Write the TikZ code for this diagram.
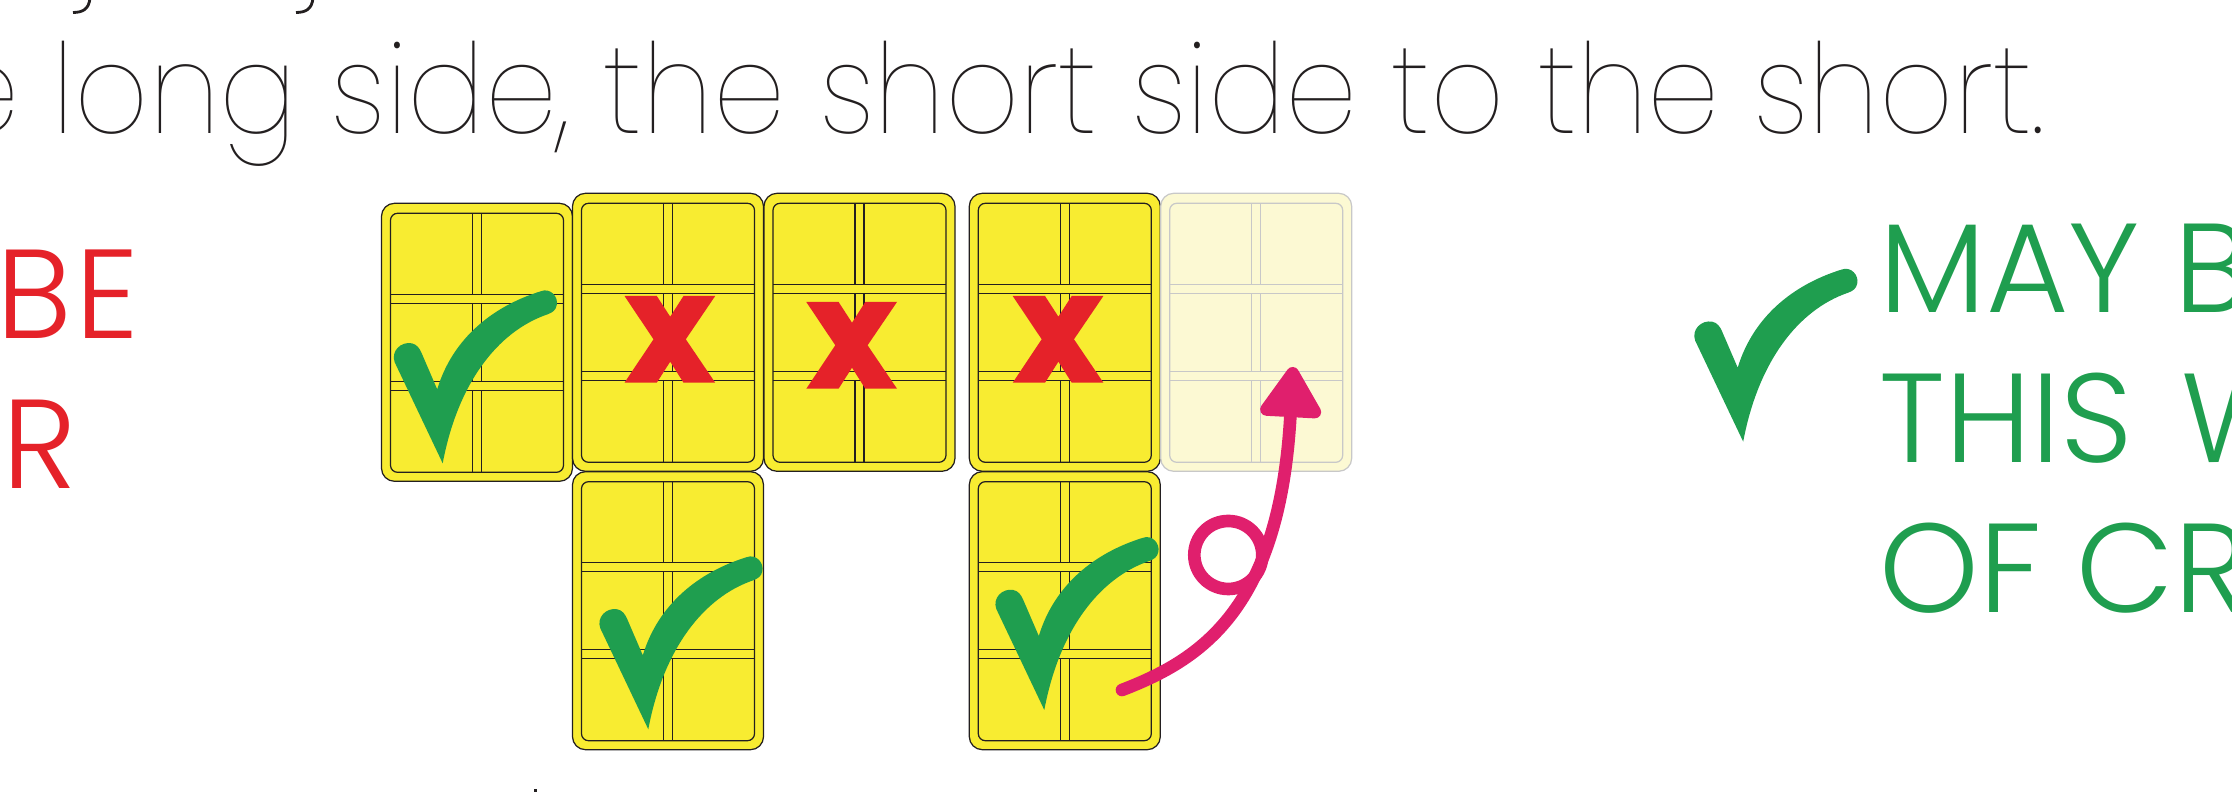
\documentclass[tikz,border=0pt]{standalone}
\usepackage{fontspec}
\usetikzlibrary{arrows.meta}
\usetikzlibrary{calc}
\tikzset{>=latex}

\IfFontExistsTF{Poppins Thin}{\newfontfamily\hairfont[FakeStretch=0.922]{Poppins Thin}}{%
  \IfFontExistsTF{Poppins ExtraLight}{\newfontfamily\hairfont[FakeStretch=0.922]{Poppins ExtraLight}}{\newfontfamily\hairfont{Lato}}}
\IfFontExistsTF{Poppins Light}{\newfontfamily\capsfont{Poppins Light}}{%
  \IfFontExistsTF{Lato Light}{\newfontfamily\capsfont{Lato Light}}{\newfontfamily\capsfont{Lato}}}

\definecolor{tileyellow}{HTML}{F8EC31}
\definecolor{tickgreen}{HTML}{1F9E4F}
\definecolor{crossred}{HTML}{E52229}
\definecolor{arrowpink}{HTML}{E01F6D}
\definecolor{fadeyellow}{HTML}{FCF9D3}
\definecolor{fadegrey}{HTML}{C8C8C8}
\definecolor{inkblack}{HTML}{231F20}

\tikzset{
  tileface/.style={fill=tileyellow, draw=inkblack, line width=0.35pt},
  tilegrid/.style={draw=inkblack, line width=0.35pt},
  topline/.style={font=\hairfont\fontsize{35.5pt}{40pt}\selectfont, text=inkblack, inner sep=0pt},
  redword/.style={font=\capsfont\fontsize{36pt}{40pt}\selectfont, text=crossred, inner sep=0pt},
  greenword/.style={font=\capsfont\fontsize{36pt}{40pt}\selectfont, text=tickgreen, inner sep=0pt},
  pinkline/.style={draw=arrowpink, line width=3.6pt, line cap=round},
  pics/tile/.style={code={
    \draw[tileface, rounded corners=1.3mm] (0,0) rectangle (191,278);
    \draw[tilegrid, rounded corners=0.7mm] (9,10) rectangle (182,269);
    \foreach \gy in {91,100,178,187}
      \draw[tilegrid] (9,\gy) -- (182,\gy);
    \foreach \ya/\yb in {10/91,100/178,187/269}
      \foreach \gx in {91,100}
        \draw[tilegrid] (\gx,\ya) -- (\gx,\yb);
  }},
  pics/cross/.style={code={
    \fill[crossred] (0,0) -- (32.3,0) -- (45.7,20.7) -- (59,0) -- (90.7,0) -- (61.3,43.3)
      -- (90.7,86.7) -- (59,86.7) -- (45.7,65.7) -- (32.3,86.7) -- (0,86.7) -- (29,43.3) -- cycle;
  }},
  pics/tick/.style={code={
    \fill[tickgreen] (0,0) -- (-48,-101)
      .. controls (-52,-112) and (-42,-122) .. (-31,-120)
      .. controls (-26,-119) and (-23,-115) .. (-21,-110)
      -- (-5.5,-74)
      .. controls (10,-125) and (50,-157) .. (98,-172)
      .. controls (108,-176) and (116,-166) .. (114,-158)
      .. controls (113,-153) and (110,-151) .. (105,-149)
      .. controls (55,-132) and (15,-80) .. (0,0) -- cycle;
  }},
}

\begin{document}
\begin{tikzpicture}[x=0.01cm, y=-0.01cm]
    \useasboundingbox (0,0) rectangle (2232,792);
    \clip (0,0) rectangle (2232,792);

    % Tail ends of the line above
    \draw[inkblack, line width=0.8pt] (90,-2) .. controls (89,9) and (83,12.5) .. (73,12.5);
    \draw[inkblack, line width=0.8pt] (313,-2) .. controls (312,9) and (306,12.5) .. (296,12.5);
    \fill[inkblack] (533.5,789) rectangle (536.5,792);

    % The rule
    \node[topline, anchor=base east] (rule) at (2046,133.3) {e long side, the short side to the short.};

    % Tiles
    \pic (tileA) at (381.5,203.3) {tile};
    \pic (tileB) at (572.5,193.3) {tile};
    \pic (tileC) at (764,193.3) {tile};
    \pic (tileD) at (969.3,193.3) {tile};
    \pic (tileF) at (572.5,471.7) {tile};
    \pic (tileG) at (969.3,471.7) {tile};
    \begin{scope}[tileface/.style={fill=fadeyellow, draw=fadegrey, line width=0.35pt},
                  tilegrid/.style={draw=fadegrey, line width=0.35pt}]
        \pic (tileE) at (1160.7,193.3) {tile};
    \end{scope}

    % Wrong ways
    \pic (crossB) at (624.5,296) {cross};
    \pic (crossC) at (806.3,302) {cross};
    \pic (crossD) at (1012.7,296) {cross};

    % Right ways
    \pic (tickA) at (442.7,463.3) {tick};
    \pic (tickF) at (648.3,729.3) {tick};
    \pic (tickG) at (1044.3,710) {tick};
    \pic (tickR) at (1743.2,441.7) {tick};

    % The turn
    \coordinate (arrStart) at (1122,690);
    \coordinate (arrTip) at (1293,367);
    \coordinate (loopC) at (1228.3,555);
    \draw[pinkline] (loopC) circle [radius=34];
    \draw[pinkline, -{Triangle[length=5.6mm,width=6.8mm,round]}] (arrStart) .. controls (1200,660) and (1280,610) .. (arrTip);

    % Side words
    \node[redword, anchor=base west] (redBE) at (-4,338.7) {B\kern1pt E};
    \node[redword, anchor=base west] (redR) at (2,488.7) {R};
    \node[greenword, anchor=base west] (greenMay) at (1879,312.7) {MAY B};
    \node[greenword, anchor=base west] (greenThis) at (1879,462.7) {THIS\hspace{4pt} W};
    \node[greenword, anchor=base west] (greenOf) at (1879,612.7) {OF CR};
\end{tikzpicture}
\end{document}
